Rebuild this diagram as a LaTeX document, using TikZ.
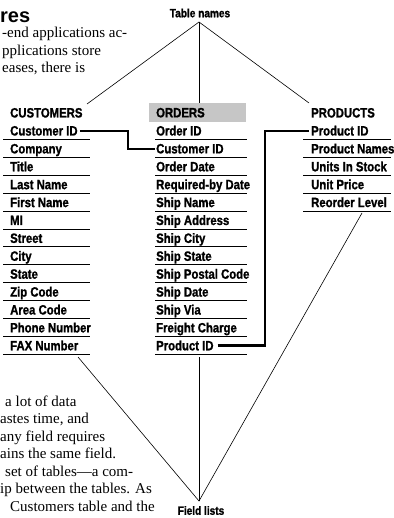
\documentclass[tikz,border=0pt]{standalone}
\usepackage{fontspec}
\setmainfont{Liberation Serif}
\newfontfamily\condf[FakeStretch=0.84,FakeBold=1.2]{Liberation Sans Bold}
\newfontfamily\headf{Liberation Sans Bold}
\tikzset{
  fld/.style={anchor=base west, inner sep=0pt, font=\condf\fontsize{13.5}{13.5}\selectfont},
  lbl/.style={inner sep=0pt, font=\condf\fontsize{12}{12}\selectfont},
  body/.style={anchor=base west, inner sep=0pt, font=\fontsize{15}{17}\selectfont},
  uline/.style={line width=0.9pt},
  link/.style={line width=2.2pt},
  pointer/.style={line width=0.6pt}
}
\begin{document}
\begin{tikzpicture}[x=1pt,y=-1pt]
\useasboundingbox (0,0) rectangle (393,518);
% heading and body text
\node[anchor=base west, inner sep=0pt, font=\headf\fontsize{20}{20}\selectfont] (hd) at (0,23) {res};
\node[body] (t1) at (2,38) {-end applications ac-};
\node[body] (t2) at (2,55.5) {pplications store};
\node[body] (t3) at (2,73) {eases, there is};
\node[body] (b1) at (5,406) {a lot of data};
\node[body] (b2) at (0,423.5) {astes time, and};
\node[body] (b3) at (0,441) {any field requires};
\node[body] (b4) at (0,458.5) {ains the same field.};
\node[body] (b5) at (5,476) {set of tables---a com-};
\node[body] (b6) at (0,493.5) {ip between the tables. As};
\node[body] (b7) at (10,511) {Customers table and the};
% CUSTOMERS
\node[fld] (ch) at (10,117.5) {CUSTOMERS};
\foreach \t [count=\i from 0] in {Customer ID,Company,Title,Last Name,First Name,MI,Street,City,State,Zip Code,Area Code,Phone Number,FAX Number}{
  \node[fld] (c\i) at (10,{135.5+17.9*\i}) {\t};
  \draw[uline] (3,{139.5+17.9*\i}) -- (90,{139.5+17.9*\i});
}
% ORDERS
\node[fld, anchor=north west, fill=gray!45, minimum width=97pt, minimum height=19pt, inner xsep=7pt, inner ysep=0pt, text width=83pt, align=left] (oh) at (149,103) {ORDERS};
\foreach \t [count=\i from 0] in {Order ID,Customer ID,Order Date,Required-by Date,Ship Name,Ship Address,Ship City,Ship State,Ship Postal Code,Ship Date,Ship Via,Freight Charge,Product ID}{
  \node[fld] (o\i) at (156,{135.5+17.9*\i}) {\t};
  \draw[uline] (155,{139.5+17.9*\i}) -- (247,{139.5+17.9*\i});
}
% PRODUCTS
\node[fld] (ph) at (311,117.5) {PRODUCTS};
\foreach \t [count=\i from 0] in {Product ID,Product Names,Units In Stock,Unit Price,Reorder Level}{
  \node[fld] (p\i) at (311,{135.5+17.9*\i}) {\t};
  \draw[uline] (303,{139.5+17.9*\i}) -- (391,{139.5+17.9*\i});
}
% links
\coordinate (kc) at (128,140);
\coordinate (kp) at (265,240);
\draw[link] ([xshift=2pt]c0.east) -| (kc) |- ([xshift=-1pt]o1.west);
\draw[link] ([xshift=4pt]o12.east) -| (kp) |- ([xshift=-2pt]p0.west);
% Table names
\node[lbl] (tn) at (200,13) {Table names};
\coordinate (ta) at (199,22);
\coordinate (tl) at (87,104);
\coordinate (tr) at (309,103);
\draw[pointer] (tl) -- (ta) -- (tr);
\draw[pointer] (ta) -- (oh.north -| ta);
% Field lists
\node[lbl] (fl) at (201,510.5) {Field lists};
\coordinate (fa) at (199,501);
\coordinate (fl1) at (78,357);
\coordinate (fl2) at (199,357);
\coordinate (fl3) at (362,213);
\draw[pointer] (fl1) -- (fa) -- (fl3);
\draw[pointer] (fa) -- (fl2);
\end{tikzpicture}
\end{document}
